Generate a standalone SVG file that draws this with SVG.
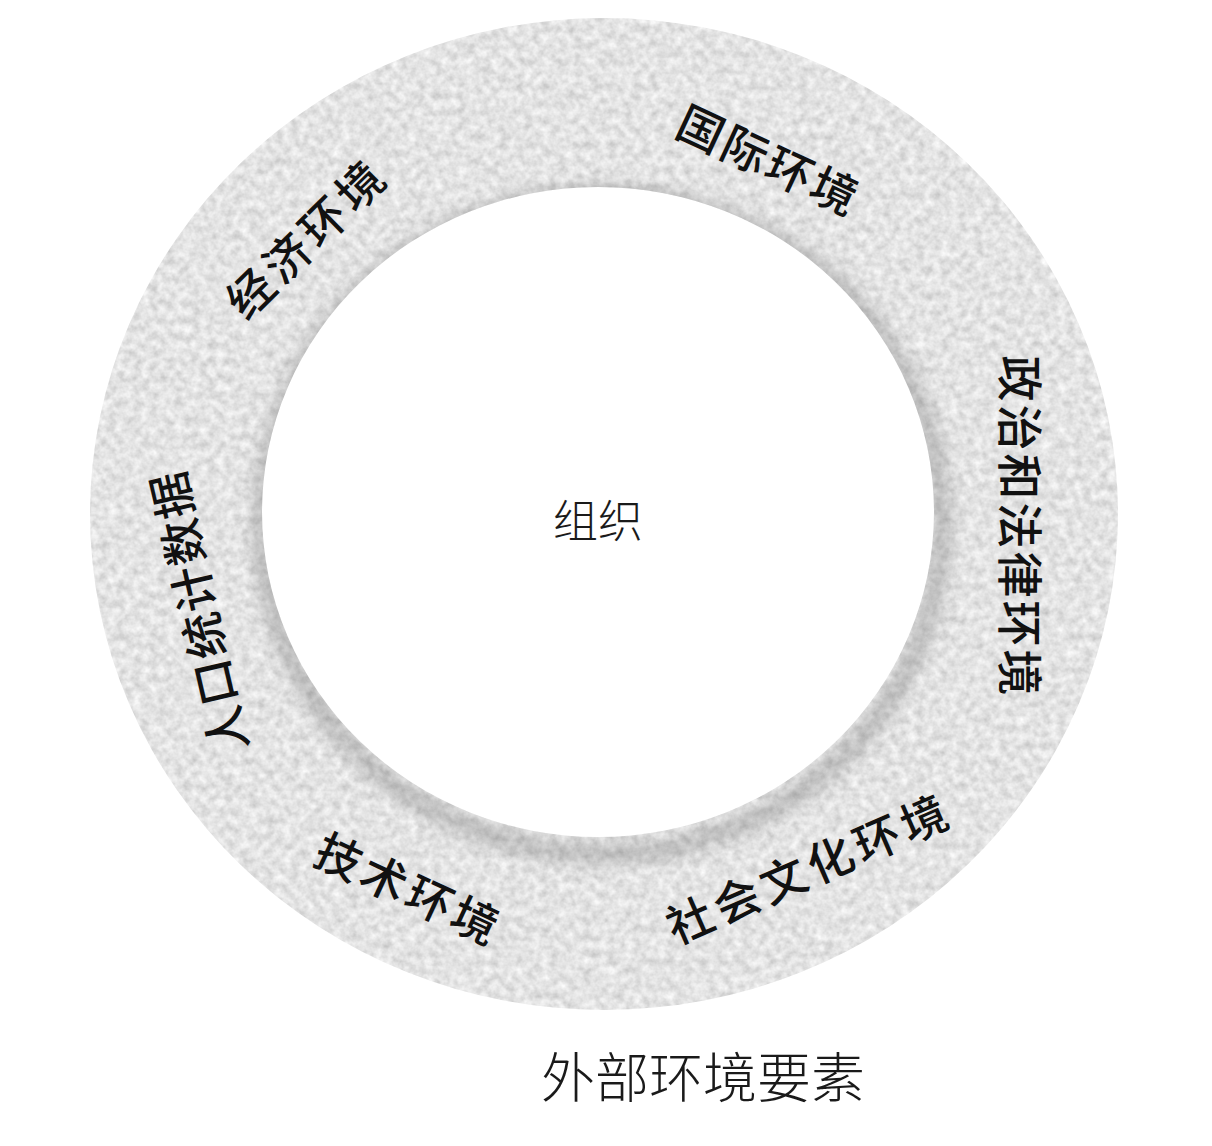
<svg xmlns="http://www.w3.org/2000/svg" width="1212" height="1146" viewBox="0 0 1212 1146">
  <style>
    .lbl { font-family: "Noto Sans CJK SC", "Liberation Sans", sans-serif; font-size: 46px; font-weight: 500; fill: #111; text-anchor: middle; dominant-baseline: central; }
    .plain { font-family: "Noto Sans CJK SC", "Liberation Serif", serif; font-weight: 300; fill: #1a1a1a; text-anchor: middle; dominant-baseline: central; }
  </style>
  <defs>
    <filter id="tex" x="0" y="0" width="100%" height="100%">
      <feTurbulence type="fractalNoise" baseFrequency="0.12" numOctaves="3" seed="7" result="n"/>
      <feColorMatrix in="n" type="matrix" values="0.5 0 0 0 0.52  0.5 0 0 0 0.52  0.5 0 0 0 0.52  0 0 0 0 1" result="g"/>
      <feComposite in="g" in2="SourceGraphic" operator="in"/>
    </filter>
    <filter id="soft" x="-10%" y="-10%" width="120%" height="120%">
      <feGaussianBlur stdDeviation="8"/>
    </filter>
    <clipPath id="ringClip">
      <path clip-rule="evenodd" d="M90,514 A514,496 0 1,0 1118,514 A514,496 0 1,0 90,514 Z M262,512 A336,325 0 1,0 934,512 A336,325 0 1,0 262,512 Z"/>
    </clipPath>
  </defs>
  <rect width="1212" height="1146" fill="#ffffff"/>

  <g id="ring">
    <path fill="#c4c4c4" fill-rule="evenodd" filter="url(#tex)" d="M90,514 A514,496 0 1,0 1118,514 A514,496 0 1,0 90,514 Z M262,512 A336,325 0 1,0 934,512 A336,325 0 1,0 262,512 Z"/>
    <g clip-path="url(#ringClip)">
      <ellipse cx="602" cy="524" rx="340" ry="330" fill="none" stroke="#5a5a5a" stroke-width="16" opacity="0.35" filter="url(#soft)"/>
    </g>
  </g>

  <g id="connectors"></g>

  <g id="node-org">
    <text class="plain" x="598" y="518" font-size="45">组织</text>
  </g>
  <g id="node-international">
    <text class="lbl" transform="translate(770,158) rotate(25)" letter-spacing="3">国际环境</text>
  </g>
  <g id="node-economic">
    <text class="lbl" transform="translate(305,236) rotate(-44.5)" letter-spacing="5">经济环境</text>
  </g>
  <g id="node-demographic">
    <text class="lbl" transform="translate(196,612) rotate(-103)" font-size="44" letter-spacing="2">人口统计数据</text>
  </g>
  <g id="node-political">
    <text class="lbl" transform="translate(1023,527) rotate(90)" font-size="45" letter-spacing="3">政治和法律环境</text>
  </g>
  <g id="node-technology">
    <text class="lbl" transform="translate(410,887) rotate(25)" letter-spacing="4">技术环境</text>
  </g>
  <g id="node-social">
    <text class="lbl" transform="translate(808,866) rotate(-23.5)" letter-spacing="5">社会文化环境</text>
  </g>
  <g id="title">
    <text class="plain" x="703" y="1074" font-size="54">外部环境要素</text>
  </g>
</svg>
